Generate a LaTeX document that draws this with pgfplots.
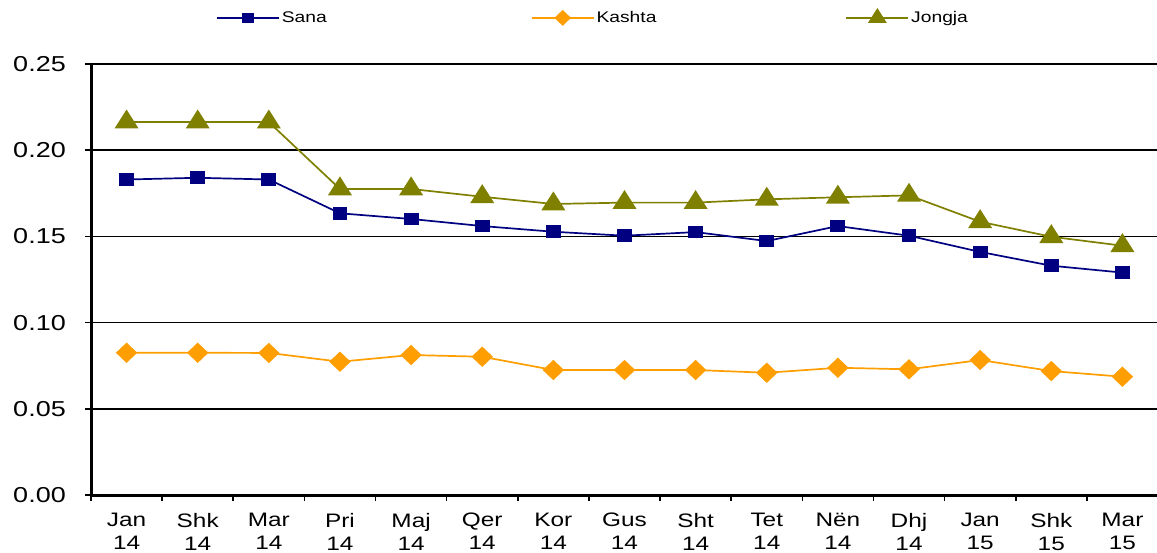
\documentclass[border=0pt]{standalone}
\usepackage{fontspec}
\setmainfont{Liberation Sans}[FakeStretch=1.25]
\usepackage{pgfplots}
\pgfplotsset{compat=1.18}
\definecolor{sana}{RGB}{0,0,128}
\definecolor{kashta}{RGB}{255,158,0}
\definecolor{jongja}{RGB}{128,128,0}
\begin{document}
\begin{tikzpicture}[x=1pt,y=1pt]
\path[use as bounding box] (0,0) rectangle (1157,552);
\begin{axis}[
  at={(91pt,57pt)}, anchor=south west,
  scale only axis, width=1067pt, height=431pt,
  xmin=-0.5, xmax=14.5, ymin=0, ymax=0.25,
  axis x line=bottom, axis y line=left,
  axis line style={-, line width=3pt, black},
  xtick={0,...,14},
  xticklabels={{Jan\\14},{Shk\\14},{Mar\\14},{Pri\\14},{Maj\\14},{Qer\\14},{Kor\\14},{Gus\\14},{Sht\\14},{Tet\\14},{Nën\\14},{Dhj\\14},{Jan\\15},{Shk\\15},{Mar\\15}},
  minor xtick={-0.5,0.5,...,14.5},
  major x tick style={draw=none},
  minor x tick style={line width=1.6pt, black},
  minor tick length=6pt,
  ytick={0,0.05,0.1,0.15,0.2,0.25},
  major tick length=6pt,
  y tick style={line width=1.6pt, black},
  tick align=outside,
  ymajorgrids, major grid style={line width=1.7pt, black},
  /pgf/number format/assume math mode=true,
  yticklabel style={/pgf/number format/fixed, /pgf/number format/fixed zerofill, /pgf/number format/precision=2,
     font=\fontsize{21.6}{24}\selectfont, inner sep=0pt, xshift=-19pt},
  xticklabel style={align=center, font=\fontsize{19.5}{23}\selectfont, inner sep=0pt, yshift=-12pt},
  legend columns=3,
  legend cell align=left,
  legend style={at={(axis description cs:0.1171,1.107)}, anchor=west, draw=none, fill=none, inner sep=0pt,
     font=\fontsize{15.4}{18}\selectfont,
     nodes={text width=235pt},
     /tikz/every even column/.append style={column sep=12pt}},
  legend image code/.code={\draw[mark repeat=2,mark phase=2,#1,every mark/.append style={scale=0.75}] plot coordinates {(0pt,0pt) (31pt,0pt) (62pt,0pt)};},
]
\addplot[sana, line width=1.7pt, mark=square*, mark size=5.5pt, mark options={xscale=1.2}] coordinates {
(0,0.183) (1,0.184) (2,0.183) (3,0.1634) (4,0.1601) (5,0.156) (6,0.1527) (7,0.1504) (8,0.1525) (9,0.1473) (10,0.156) (11,0.1504) (12,0.141) (13,0.133) (14,0.129)};
\addlegendentry{Sana}
\addplot[kashta, line width=1.7pt, mark=diamond*, mark size=9pt, mark options={xscale=1.4}] coordinates {
(0,0.0825) (1,0.0825) (2,0.0824) (3,0.0773) (4,0.0812) (5,0.0802) (6,0.0725) (7,0.0725) (8,0.0725) (9,0.0709) (10,0.0738) (11,0.0729) (12,0.0783) (13,0.0719) (14,0.0686)};
\addlegendentry{Kashta}
\addplot[jongja, line width=1.7pt, mark=triangle*, mark size=11pt, mark options={xscale=1.1}] coordinates {
(0,0.2163) (1,0.2163) (2,0.2163) (3,0.1775) (4,0.1775) (5,0.173) (6,0.1688) (7,0.1696) (8,0.1696) (9,0.1715) (10,0.1727) (11,0.1738) (12,0.1585) (13,0.1498) (14,0.1446)};
\addlegendentry{Jongja}
\end{axis}
\end{tikzpicture}
\end{document}
